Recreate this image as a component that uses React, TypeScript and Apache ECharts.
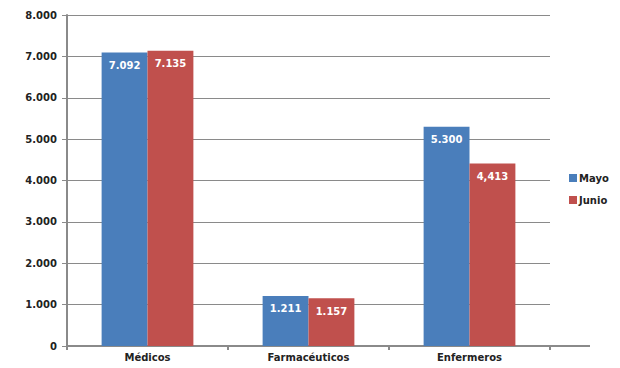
import React, { useEffect, useRef } from "react";
import * as echarts from "echarts";

const categories = ["Médicos", "Farmacéuticos", "Enfermeros"];
const seriesNames = ["Mayo", "Junio"];
const mayo = [7092, 1211, 5300];
const junio = [7135, 1157, 4413];
const mayoLabels = ["7.092", "1.211", "5.300"];
const junioLabels = ["7.135", "1.157", "4,413"];
const yTicks = [0, 1000, 2000, 3000, 4000, 5000, 6000, 7000, 8000];

const FONT = "DejaVu Sans";

export default function App() {
  const ref = useRef<HTMLDivElement>(null);
  useEffect(() => {
    if (!ref.current) return;
    const chart = echarts.init(ref.current, undefined, { renderer: "svg" });
    const fmt = (v: number) =>
      v === 0 ? "0" : `${Math.floor(v / 1000)}.${String(v % 1000).padStart(3, "0")}`;
    const mkLabel = (labels: string[]) => ({
      show: true,
      position: "insideTop",
      distance: 8,
      color: "#ffffff",
      fontFamily: FONT,
      fontWeight: "bold",
      fontSize: 10,
      formatter: (p: any) => labels[p.dataIndex],
    });
    chart.setOption({
      animation: false,
      backgroundColor: "#ffffff",
      grid: { left: 67, right: 70, top: 15, bottom: 22, containLabel: false },
      legend: {
        orient: "vertical",
        left: 564,
        top: 168,
        itemWidth: 8,
        itemHeight: 8,
        itemGap: 12,
        icon: "rect",
        data: seriesNames,
        textStyle: { fontFamily: FONT, fontWeight: "bold", fontSize: 10, color: "#222", padding: [0, 0, 0, -3] },
      },
      xAxis: {
        type: "category",
        data: categories,
        axisLine: { lineStyle: { color: "#8a8a8a", width: 2 } },
        axisTick: { show: true, length: 4, lineStyle: { color: "#8a8a8a", width: 2 } },
        axisLabel: { fontFamily: FONT, fontWeight: "bold", fontSize: 10, color: "#222", margin: 6 },
      },
      yAxis: {
        type: "value",
        min: 0,
        max: 8000,
        interval: 1000,
        axisLine: { show: true, lineStyle: { color: "#8a8a8a", width: 2 } },
        axisTick: { show: true, length: 5, lineStyle: { color: "#8a8a8a", width: 1 } },
        splitLine: { lineStyle: { color: "#8a8a8a", width: 1 } },
        axisLabel: {
          fontFamily: FONT,
          fontWeight: "bold",
          fontSize: 10,
          color: "#222",
          margin: 10,
          formatter: (v: number) => (yTicks.includes(v) ? fmt(v) : ""),
        },
      },
      series: [
        {
          name: seriesNames[0],
          type: "bar",
          data: mayo,
          barGap: "0%",
          barCategoryGap: "43%",
          itemStyle: { color: "#4a7ebb" },
          label: mkLabel(mayoLabels),
        },
        {
          name: seriesNames[1],
          type: "bar",
          data: junio,
          itemStyle: { color: "#c0504d" },
          label: mkLabel(junioLabels),
        },
      ],
      graphic: [
        {
          type: "line",
          shape: { x1: 550, y1: 346, x2: 590, y2: 346 },
          style: { stroke: "#8a8a8a", lineWidth: 2 },
        },
      ],
    });
    return () => chart.dispose();
  }, []);
  return <div ref={ref} style={{ width: 620, height: 368, position: "absolute", left: 0, top: 0 }} />;
}
